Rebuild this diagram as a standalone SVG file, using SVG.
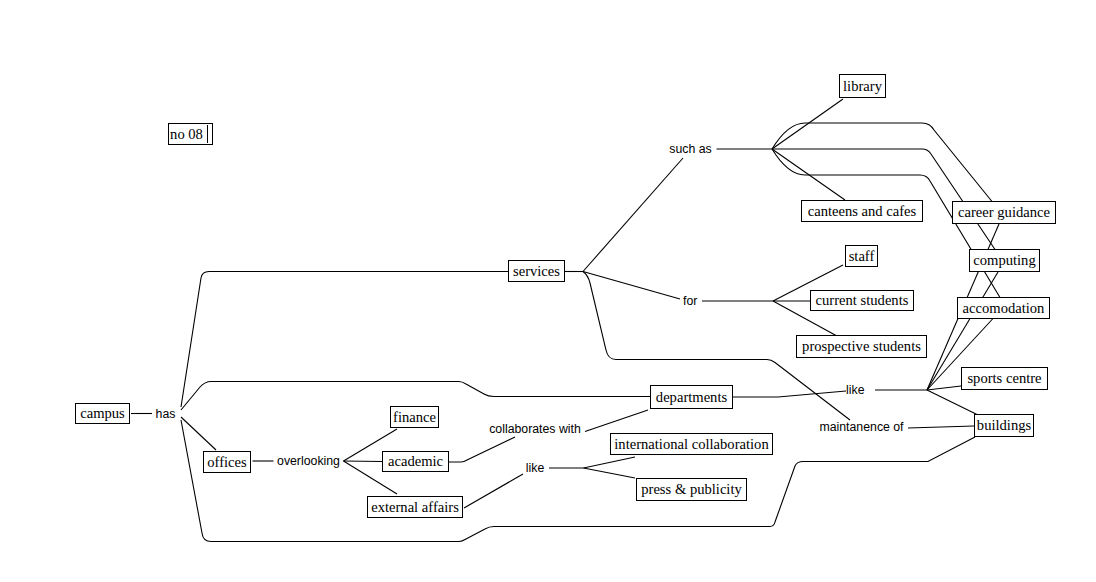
<svg xmlns="http://www.w3.org/2000/svg" width="1096" height="582" viewBox="0 0 1096 582">
<style>
.n rect{fill:#fff;stroke:#000;stroke-width:1}
.n text{font-family:"Liberation Serif","Times New Roman",serif;font-size:14.6px;fill:#000;text-anchor:middle}
.lb{font-family:"Liberation Sans",Arial,sans-serif;font-size:12.3px;fill:#000;text-anchor:middle}
#connectors path{fill:none;stroke:#000;stroke-width:1.1}
</style>
<rect width="1096" height="582" fill="#fff"/>
<g id="connectors">
<path d="M131,413.5 L152,413.5"/>
<path d="M181,407 L201,278 Q202,271.5 209,271.5 L508,271.5"/>
<path d="M181,410 L200,387 Q205,381.5 211,381.5 L459,381.5 Q462,381.5 466,384 L484,394 Q488,396.5 494,396.5 L650,396.5"/>
<path d="M181,417 L216,450"/>
<path d="M181,420 L202,533 Q203,541.5 211,541.5 L459,541.5 Q462,541.5 466,539 L485,529 Q489,526.5 494,526.5 L770,526.5 Q774,526.5 775,522 L795,466 Q797,461.5 803,461.5 L928,461.5 L975,437"/>
<path d="M252.5,461 L273.5,461"/>
<path d="M343.5,461 L397,429"/>
<path d="M343.5,461 L382,461.5"/>
<path d="M343.5,461 L397,494"/>
<path d="M449,462 L461,462 Q464,462 467,460 L515,437"/>
<path d="M585,431.5 L648,410"/>
<path d="M464,508 L523,474"/>
<path d="M549,468 L583.5,468 L635,457"/>
<path d="M583.5,468 L635,478"/>
<path d="M565,271.5 L583,271.5"/>
<path d="M583,271.5 L683,158"/>
<path d="M583,271.5 L680,299"/>
<path d="M583,271.5 Q588,275 590,283 L606,350 Q608,359.5 616,359.5 L767,359.5 Q771,359.5 775,362.5 L850,420"/>
<path d="M716.5,149 L772,149"/>
<path d="M702,301 L773,301"/>
<path d="M772,149 L843,99"/>
<path d="M772,149 L845,200"/>
<path d="M772,149 Q788,123 805,123 L922,123 Q930,123 934,130 L992,201.5"/>
<path d="M772,149 L922,149 Q928,149 931,154 L995,249.5"/>
<path d="M772,149 Q788,175 805,175 L920,175 Q927,175 930,181 L1000,297.5"/>
<path d="M773,301 L843,265"/>
<path d="M773,301 L810,301"/>
<path d="M773,301 L836,335.5"/>
<path d="M733,397 L778,397 L846,391"/>
<path d="M875,390 L927,390"/>
<path d="M927,390 L999,224"/>
<path d="M927,390 L998,272"/>
<path d="M927,390 L993,318.5"/>
<path d="M927,390 L961,386"/>
<path d="M927,390 L977,414.5"/>
<path d="M908,428 L974,426"/>
</g>
<text class="lb" x="165.5" y="417.8">has</text>
<text class="lb" x="308.5" y="465.2">overlooking</text>
<text class="lb" x="535" y="433.3">collaborates with</text>
<text class="lb" x="535" y="472.4">like</text>
<text class="lb" x="690.5" y="153.3">such as</text>
<text class="lb" x="690.3" y="305.3">for</text>
<text class="lb" x="855.3" y="394.3">like</text>
<text class="lb" x="861.5" y="431.3">maintanence of</text>
<g id="no08" class="n"><rect x="168.5" y="123.5" width="44" height="21"/><text x="186.5" y="138.8">no 08</text><line x1="207.5" y1="125" x2="207.5" y2="143" stroke="#000" stroke-width="1"/></g>
<g id="campus" class="n"><rect x="75.5" y="403.5" width="54" height="20"/><text x="102.5" y="418.3">campus</text></g>
<g id="services" class="n"><rect x="508.5" y="260.5" width="56" height="21"/><text x="536.5" y="275.8">services</text></g>
<g id="departments" class="n"><rect x="650.5" y="385.5" width="82" height="23"/><text x="691.5" y="401.8">departments</text></g>
<g id="offices" class="n"><rect x="203.5" y="451.5" width="47" height="21"/><text x="227" y="466.8">offices</text></g>
<g id="finance" class="n"><rect x="390.5" y="406.5" width="48" height="21"/><text x="414.5" y="421.8">finance</text></g>
<g id="academic" class="n"><rect x="382.5" y="451.5" width="66" height="20"/><text x="415.5" y="466.3">academic</text></g>
<g id="external-affairs" class="n"><rect x="367.5" y="496.5" width="95" height="21"/><text x="415" y="511.8">external affairs</text></g>
<g id="international-collaboration" class="n"><rect x="610.5" y="433.5" width="162" height="21"/><text x="691.5" y="448.8">international collaboration</text></g>
<g id="press-publicity" class="n"><rect x="636.5" y="478.5" width="110" height="22"/><text x="691.5" y="494.3">press &amp; publicity</text></g>
<g id="library" class="n"><rect x="839.5" y="74.5" width="46" height="23"/><text x="862.5" y="90.8">library</text></g>
<g id="canteens" class="n"><rect x="801.5" y="200.5" width="121" height="21"/><text x="862" y="215.8">canteens and cafes</text></g>
<g id="staff" class="n"><rect x="845.5" y="245.5" width="32" height="21"/><text x="861.5" y="260.8">staff</text></g>
<g id="current-students" class="n"><rect x="810.5" y="290.5" width="103" height="20"/><text x="862" y="305.3">current students</text></g>
<g id="prospective-students" class="n"><rect x="796.5" y="335.5" width="130" height="22"/><text x="861.5" y="351.3">prospective students</text></g>
<g id="career-guidance" class="n"><rect x="952.5" y="201.5" width="103" height="22"/><text x="1004" y="217.3">career guidance</text></g>
<g id="computing" class="n"><rect x="969.5" y="249.5" width="70" height="22"/><text x="1004.5" y="265.3">computing</text></g>
<g id="accomodation" class="n"><rect x="957.5" y="297.5" width="92" height="21"/><text x="1003.5" y="312.8">accomodation</text></g>
<g id="sports-centre" class="n"><rect x="961.5" y="367.5" width="86" height="22"/><text x="1004.5" y="383.3">sports centre</text></g>
<g id="buildings" class="n"><rect x="974.5" y="414.5" width="59" height="22"/><text x="1004" y="430.3">buildings</text></g>
</svg>
